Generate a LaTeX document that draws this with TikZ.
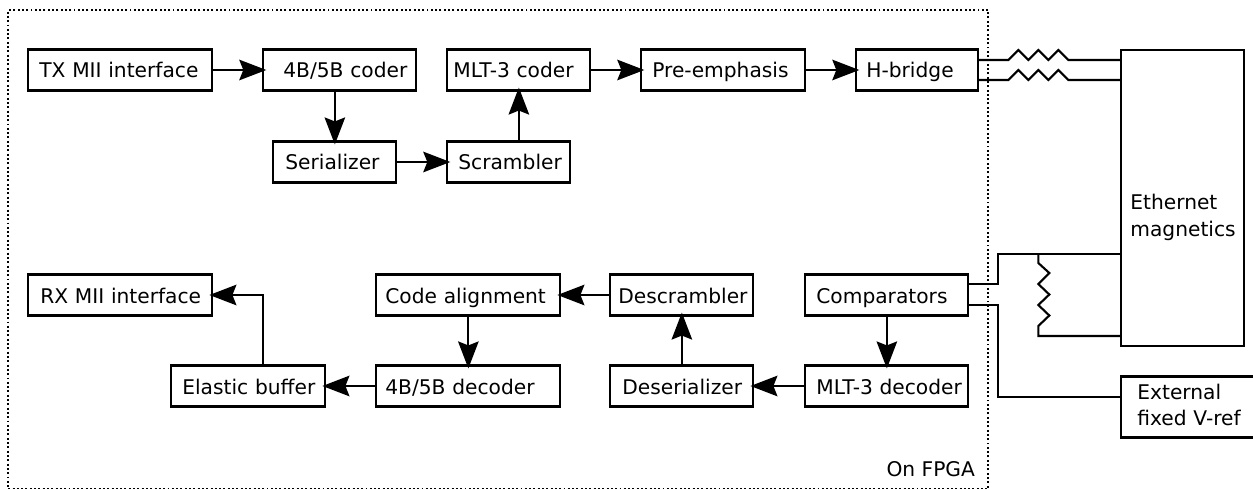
\documentclass[tikz,border=0pt]{standalone}
\usepackage{fontspec}
\setmainfont{DejaVu Sans}
\usetikzlibrary{arrows.meta}
\newlength\pxunit
\setlength{\pxunit}{0.02cm}
\tikzset{
    blockbox/.style 2 args={draw,line width=1.2pt,anchor=west,inner xsep=0pt,inner ysep=0pt,align=left,
        text width=#1*\pxunit,minimum height=41*\pxunit,text height=20*\pxunit,text depth=4*\pxunit,
        execute at begin node={\leftskip=#2\pxunit}},
    flowline/.style={line width=1.2pt,-{Stealth[length=0.54cm,width=0.41cm,inset=0.08cm]},shorten >=-4*\pxunit},
    wireline/.style={line width=1.2pt},
}
% zigzag of the resistors, three teeth
\def\reshoriz{-- ++(10,-10) -- ++(10,10) -- ++(10,-10) -- ++(10,10) -- ++(10,-10) -- ++(10,10)}
\def\resvert{-- ++(11,10) -- ++(-11,11) -- ++(11,10.5) -- ++(-11,10.5) -- ++(11,10.5) -- ++(-11,10.5)}
\begin{document}
\begin{tikzpicture}[x=0.02cm,y=-0.02cm,font=\fontsize{11.5pt}{14.8pt}\selectfont]
    \useasboundingbox (0.7,0) rectangle (1253.7,489);
    \node[draw,dash pattern=on 1.1pt off 1.35pt,line width=1.1pt,minimum width=980*\pxunit,minimum height=479*\pxunit,anchor=north west,inner sep=0pt](fpga) at (8,9){};
    \node[anchor=base east,inner sep=0pt](fpgalabel) at (976,476){On FPGA};

    % transmit side
    \node[blockbox={184}{11}](txmii) at (28,70){TX MII interface};
    \node[blockbox={153}{20}](coder) at (263,70){4B/5B coder};
    \node[blockbox={143}{6}](mltcoder) at (447,70){MLT-3 coder};
    \node[blockbox={164}{11}](preemph) at (641,70){Pre-emphasis};
    \node[blockbox={122}{10}](hbridge) at (856,70){H-bridge};
    \node[blockbox={123}{12}](serial) at (273,162){Serializer};
    \node[blockbox={123}{11}](scramble) at (447,162){Scrambler};

    % receive side
    \node[blockbox={184}{12}](rxmii) at (28,295){RX MII interface};
    \node[blockbox={184}{9}](align) at (376,295){Code alignment};
    \node[blockbox={143}{8}](descramble) at (610,295){Descrambler};
    \node[blockbox={163}{11}](compare) at (805,295){Comparators};
    \node[blockbox={154}{11}](elastic) at (171,386){Elastic buffer};
    \node[blockbox={184}{9}](decoder) at (376,386){4B/5B decoder};
    \node[blockbox={143}{12}](deserial) at (610,386){Deserializer};
    \node[blockbox={163}{11}](mltdecoder) at (805,386){MLT-3 decoder};

    % outside the FPGA
    \node[blockbox={123}{9},minimum height=296*\pxunit,text height=30*\pxunit,text depth=6*\pxunit](magnetics) at (1121,198){Ethernet\\magnetics};
    \node[blockbox={150}{16},minimum height=61*\pxunit,text height=4*\pxunit,text depth=20*\pxunit](vref) at (1121,407){External\\fixed V-ref};

    \draw[flowline] (txmii.east) -- (coder.west);
    \draw[flowline] (serial.north |- coder.south) -- (serial.north);
    \draw[flowline] (serial.east) -- (scramble.west);
    \draw[flowline] (mltcoder.south |- scramble.north) -- (mltcoder.south);
    \draw[flowline] (mltcoder.east) -- (preemph.west);
    \draw[flowline] (preemph.east) -- (hbridge.west);

    \draw[flowline] (compare.south) -- (mltdecoder.north);
    \draw[flowline] (mltdecoder.west) -- (deserial.east);
    \draw[flowline] (deserial.north) -- (descramble.south);
    \draw[flowline] (descramble.west) -- (align.east);
    \draw[flowline] (align.south) -- (decoder.north);
    \draw[flowline] (decoder.west) -- (elastic.east);
    \draw[flowline] ([xshift=15*\pxunit]elastic.north) |- (rxmii.east);

    \coordinate (hbtop) at (978,60);
    \coordinate (hbbot) at (978,80);
    \coordinate (mgtop) at (1121,60);
    \coordinate (mgbot) at (1121,80);
    \draw[wireline] (hbtop) -- (1009,60) \reshoriz -- (mgtop);
    \draw[wireline] (hbbot) -- (1009,80) \reshoriz -- (mgbot);

    \coordinate (cmptop) at (968,284);
    \coordinate (cmpbot) at (968,305);
    \coordinate (mgin) at (1121,254);
    \coordinate (mgret) at (1121,336);
    \coordinate (vrefin) at (1121,397);
    \draw[wireline] (cmptop) -- (999,284) -- (999,254) -- (mgin);
    \draw[wireline] (cmpbot) -- (999,305) |- (vrefin);
    \draw[wireline] (1039,254) -- (1039,263) \resvert -- (1039,336) -- (mgret);
\end{tikzpicture}
\end{document}
